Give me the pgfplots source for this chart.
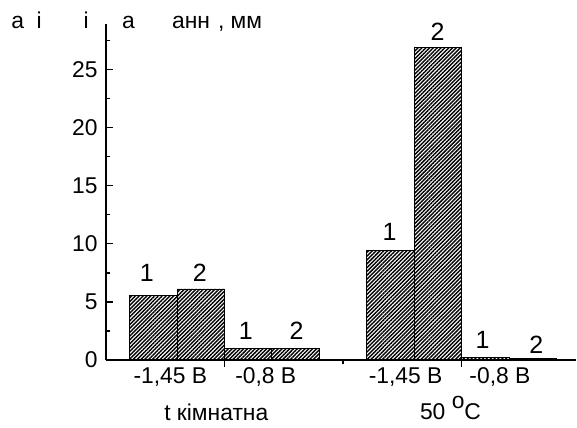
\documentclass[border=0pt]{standalone}
\usepackage{fontspec}
\setmainfont{Liberation Sans}
\usepackage{pgfplots}
\pgfplotsset{compat=1.18}
\usetikzlibrary{patterns.meta}
\begin{document}
\begin{tikzpicture}[font=\fontsize{16}{19}\selectfont]
\begin{axis}[
  scale only axis, width=329.7pt, height=235.5pt,
  xmin=0, xmax=9.92, ymin=0, ymax=28.9,
  axis x line*=bottom, axis y line*=left,
  axis line style={-, line width=0.9pt, black},
  xtick={2.5,7.5}, minor xtick={5}, xticklabels={,,},
  ytick={0,5,10,15,20,25}, minor ytick={2.5,7.5,12.5,17.5,22.5,27.5},
  xtick align=outside, ytick align=inside,
  major tick length=5pt, minor tick length=2.8pt,
  tick style={line width=0.9pt, black},
  yticklabel style={xshift=-2.3pt},
  /pgf/number format/assume math mode=true,
  clip=false,
]
\addplot[ybar, bar width=1, draw=black, line width=0.6pt,
  pattern={Lines[angle=45, distance=1.9pt, line width=1.0pt]}]
  table {
x y
1 5.54
2 6.12
3 1.02
4 1.02
6 9.43
7 26.85
8 0.25
9 0.15
};
\end{axis}
\begin{scope}[x=0.7pt, y=-0.7pt, shift={(-106,-360.5)}]
\path[use as bounding box] (0,0) rectangle (577,428);
% bar labels
\begin{scope}[font=\fontsize{17.5}{20}\selectfont]
\node at (147,273) {1};
\node at (200,273) {2};
\node at (246,331.5) {1};
\node at (297,331.5) {2};
\node at (390,232.5) {1};
\node at (438,32) {2};
\node at (483,340) {1};
\node at (537,345.5) {2};
\end{scope}
% category labels
\node at (170.5,377.5) {-1,45 B};
\node at (266,377.5) {-0,8 B};
\node at (406,377.5) {-1,45 B};
\node at (500.5,377.5) {-0,8 B};
\node[anchor=base] at (216.5,421) {t кімнатна};
\node[anchor=base] at (451,420) {50 \raisebox{8pt}{o}C};
% axis title (fragments)
\node[anchor=base west, inner sep=0pt] at (11,28.5) {а};
\node[anchor=base west, inner sep=0pt] at (36.5,28.5) {і};
\node[anchor=base west, inner sep=0pt] at (83.5,28.5) {і};
\node[anchor=base west, inner sep=0pt] at (122,28.5) {а};
\node[anchor=base west, inner sep=0pt] at (172,28.5) {анн};
\node[anchor=base west, inner sep=0pt] at (218,28.5) {, мм};
\end{scope}
\end{tikzpicture}
\end{document}
